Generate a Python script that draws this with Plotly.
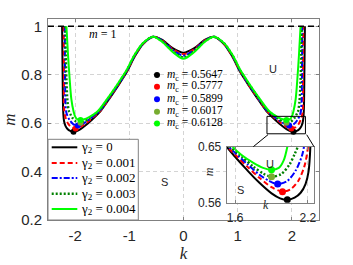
import plotly.graph_objects as go

# ---------------- data ----------------
GAMMA_LABELS = ["0", "0.001", "0.002", "0.003", "0.004"]
MC_VALUES = [0.5647, 0.5777, 0.5899, 0.6017, 0.6128]
KC_RIGHT = [2.03, 1.99, 1.95, 1.90, 1.90]
KC_LEFT = [-2.03, -1.99, -1.95, -1.90, -1.90]

K_G0 = [-2.24, -2.23, -2.22, -2.205, -2.18, -2.14, -2.09, -2.03, -1.97, -1.9, -1.8, -1.7, -1.53, -1.37, -1.2, -1.05, -0.9, -0.75, -0.56, -0.4, -0.2,
        0,
        0.2, 0.4, 0.56, 0.75, 0.9, 1.05, 1.2, 1.37, 1.53, 1.7, 1.8, 1.9, 1.97, 2.03, 2.09, 2.14, 2.18, 2.205, 2.22, 2.23, 2.24]
M_G0 = [1.0, 0.8, 0.65, 0.61, 0.59, 0.576, 0.568, 0.5647, 0.567, 0.575, 0.592, 0.612, 0.65, 0.70, 0.757, 0.81, 0.875, 0.926, 0.957, 0.945, 0.91,
        0.891,
        0.91, 0.945, 0.957, 0.926, 0.875, 0.81, 0.757, 0.70, 0.65, 0.612, 0.592, 0.575, 0.567, 0.5647, 0.568, 0.576, 0.59, 0.61, 0.65, 0.8, 1.0]

K_G1 = [-2.21, -2.205, -2.2, -2.17, -2.12, -2.06, -1.99, -1.9, -1.8, -1.7, -1.6, -1.53, -1.37, -1.2, -1.05, -0.9, -0.75, -0.56, -0.4, -0.2,
        0,
        0.2, 0.4, 0.56, 0.75, 0.9, 1.05, 1.2, 1.37, 1.53, 1.6, 1.7, 1.8, 1.9, 1.99, 2.06, 2.12, 2.17, 2.2, 2.205, 2.21]
M_G1 = [1.0, 0.8, 0.65, 0.618, 0.595, 0.582, 0.5777, 0.585, 0.6, 0.618, 0.637, 0.652, 0.703, 0.759, 0.812, 0.877, 0.927, 0.957, 0.943, 0.906,
        0.885,
        0.906, 0.943, 0.957, 0.927, 0.877, 0.812, 0.759, 0.703, 0.652, 0.637, 0.618, 0.6, 0.585, 0.5777, 0.582, 0.595, 0.618, 0.65, 0.8, 1.0]

K_G2 = [-2.19, -2.185, -2.18, -2.167, -2.15, -2.1, -2.03, -1.95, -1.88, -1.8, -1.7, -1.6, -1.54, -1.37, -1.2, -1.05, -0.9, -0.75, -0.56, -0.4, -0.2,
        0,
        0.2, 0.4, 0.56, 0.75, 0.9, 1.05, 1.2, 1.37, 1.54, 1.6, 1.7, 1.8, 1.88, 1.95, 2.03, 2.1, 2.15, 2.167, 2.18, 2.185, 2.19]
M_G2 = [1.0, 0.8, 0.70, 0.65, 0.635, 0.612, 0.595, 0.5899, 0.595, 0.605, 0.622, 0.64, 0.652, 0.706, 0.761, 0.814, 0.879, 0.928, 0.957, 0.941, 0.902,
        0.879,
        0.902, 0.941, 0.957, 0.928, 0.879, 0.814, 0.761, 0.706, 0.652, 0.64, 0.622, 0.605, 0.595, 0.5899, 0.595, 0.612, 0.635, 0.65, 0.70, 0.8, 1.0]

K_G3 = [-2.18, -2.17, -2.16, -2.14, -2.115, -2.09, -2.05, -1.98, -1.9, -1.83, -1.75, -1.65, -1.55, -1.37, -1.2, -1.05, -0.9, -0.75, -0.56, -0.4, -0.2,
        0,
        0.2, 0.4, 0.56, 0.75, 0.9, 1.05, 1.2, 1.37, 1.55, 1.65, 1.75, 1.83, 1.9, 1.98, 2.05, 2.09, 2.115, 2.14, 2.16, 2.17, 2.18]
M_G3 = [1.0, 0.88, 0.78, 0.69, 0.65, 0.638, 0.622, 0.606, 0.6017, 0.607, 0.618, 0.635, 0.652, 0.709, 0.764, 0.816, 0.881, 0.929, 0.957, 0.939, 0.898,
        0.872,
        0.898, 0.939, 0.957, 0.929, 0.881, 0.816, 0.764, 0.709, 0.652, 0.635, 0.618, 0.607, 0.6017, 0.606, 0.622, 0.638, 0.65, 0.69, 0.78, 0.88, 1.0]

K_G4 = [-2.16, -2.13, -2.1, -2.07, -2.03, -2.0, -1.96, -1.9, -1.83, -1.75, -1.65, -1.57, -1.37, -1.2, -1.05, -0.9, -0.75, -0.56, -0.4, -0.2,
        0,
        0.2, 0.4, 0.56, 0.75, 0.9, 1.05, 1.2, 1.37, 1.57, 1.65, 1.75, 1.83, 1.9, 1.96, 2.0, 2.03, 2.07, 2.1, 2.13, 2.16]
M_G4 = [1.0, 0.88, 0.78, 0.70, 0.65, 0.628, 0.616, 0.6128, 0.616, 0.624, 0.637, 0.652, 0.712, 0.767, 0.819, 0.883, 0.930, 0.957, 0.937, 0.894,
        0.866,
        0.894, 0.937, 0.957, 0.930, 0.883, 0.819, 0.767, 0.712, 0.652, 0.637, 0.624, 0.616, 0.6128, 0.616, 0.628, 0.65, 0.70, 0.78, 0.88, 1.0]

CURVES_K = [K_G0, K_G1, K_G2, K_G3, K_G4]
CURVES_M = [M_G0, M_G1, M_G2, M_G3, M_G4]

M_ONE = 1.0
X_TICKS = [-2, -1, 0, 1, 2]
X_TICK_TEXT = ["-2", "-1", "0", "1", "2"]
Y_TICKS = [0.2, 0.4, 0.6, 0.8, 1]
Y_TICK_TEXT = ["0.2", "0.4", "0.6", "0.8", "1"]
INSET_X_TICKS = [1.6, 2.2]
INSET_Y_TICKS = [0.56, 0.65]

# ---------------- styles ----------------
LINE_COLORS = ["#000000", "#ff0000", "#0000ff", "#008000", "#00ff00"]
LINE_DASH = ["solid", "5px,3px", "6px,2px,2px,2px", "2px,2px", "solid"]
LINE_WIDTH = [2, 2, 2, 2.4, 2]
MARKER_COLORS = ["#000000", "#ff0000", "#0000ff", "#77ac30", "#00ff00"]

W, H = 353, 265
PL, PR, PT, PB = 48, 319, 19, 220
XR = [-2.5, 2.5]
YR = [0.2, 1.03]
IXR = [1.53, 2.25]
IYR = [0.56, 0.65]

def px(x):
    return (x - PL) / (PR - PL)

def py(y):
    return (PB - y) / (PB - PT)

AXIS_COL = "#808080"
GRID_COL = "#d4d4d4"
TXT_COL = "#262626"
SANS = "Liberation Sans"
SERIF = "Liberation Serif"

fig = go.Figure()

for i in range(5):
    for xa, ya in (("x", "y"), ("x2", "y2")):
        fig.add_trace(go.Scatter(
            x=CURVES_K[i], y=CURVES_M[i], mode="lines", xaxis=xa, yaxis=ya,
            line=dict(color=LINE_COLORS[i], dash=LINE_DASH[i], width=LINE_WIDTH[i],
                      shape="spline", smoothing=0.8),
            showlegend=False, hoverinfo="skip"))

for i in range(5):
    fig.add_trace(go.Scatter(
        x=[KC_LEFT[i], KC_RIGHT[i]], y=[MC_VALUES[i], MC_VALUES[i]], mode="markers",
        marker=dict(color=MARKER_COLORS[i], size=6), showlegend=False, hoverinfo="skip"))
    fig.add_trace(go.Scatter(
        x=[KC_RIGHT[i]], y=[MC_VALUES[i]], mode="markers", xaxis="x2", yaxis="y2",
        marker=dict(color=MARKER_COLORS[i], size=7), showlegend=False, hoverinfo="skip"))

axis_common = dict(showline=True, mirror="ticks", linecolor=AXIS_COL, linewidth=1,
                   ticks="inside", ticklen=3, tickcolor=AXIS_COL, zeroline=False, automargin=False,
                   showgrid=True, gridcolor=GRID_COL, griddash="4px,3px", gridwidth=1)

fig.update_layout(
    width=W, height=H, autosize=False,
    margin=dict(l=PL, r=W - PR, t=PT, b=H - PB, pad=0),
    paper_bgcolor="white", plot_bgcolor="white", showlegend=False,
    xaxis=dict(range=XR, domain=[0, 1], tickvals=X_TICKS, ticktext=X_TICK_TEXT,
               tickfont=dict(family=SANS, size=15, color=TXT_COL), ticklabelstandoff=2,
               title=dict(text="<i>k</i>", font=dict(family=SERIF, size=17, color=TXT_COL), standoff=0),
               **axis_common),
    yaxis=dict(range=YR, domain=[0, 1], tickvals=Y_TICKS, ticktext=Y_TICK_TEXT,
               tickfont=dict(family=SANS, size=15, color=TXT_COL), ticklabelstandoff=2,
               title=dict(text="<i>m</i>", font=dict(family=SERIF, size=17, color=TXT_COL), standoff=1),
               **axis_common),
    xaxis2=dict(range=IXR, domain=[px(226.7), px(314)], anchor="y2", tickvals=INSET_X_TICKS,
                ticktext=["1.6", "2.2"], tickfont=dict(family=SANS, size=12, color=TXT_COL),
                ticklabelstandoff=4, **axis_common),
    yaxis2=dict(range=IYR, domain=[py(202.7), py(146.7)], anchor="x2", tickvals=INSET_Y_TICKS,
                ticktext=["0.56", "0.65"], tickfont=dict(family=SANS, size=12, color=TXT_COL),
                ticklabelstandoff=2, **axis_common),
)

shapes = []
# m = 1 reference line
shapes.append(dict(type="line", xref="paper", yref="y", x0=0, x1=1, y0=M_ONE, y1=M_ONE,
                   line=dict(color="black", width=1.5, dash="6px,4px")))
# zoom rectangle
shapes.append(dict(type="rect", xref="x", yref="y", x0=1.54, x1=2.25, y0=0.556, y1=0.628,
                   line=dict(color="black", width=1)))
# connector lines
shapes.append(dict(type="line", xref="paper", yref="paper", x0=px(268), y0=py(134.7), x1=px(253.3), y1=py(146.7),
                   line=dict(color="black", width=1)))
shapes.append(dict(type="line", xref="paper", yref="paper", x0=px(306.7), y0=py(134.7), x1=px(314), y1=py(146.7),
                   line=dict(color="black", width=1)))
# legend box
shapes.append(dict(type="rect", xref="paper", yref="paper", x0=px(48), x1=px(138.3), y0=py(220), y1=py(139.3),
                   fillcolor="white", line=dict(color=AXIS_COL, width=1), layer="above"))
LEG_ROWS = [147.3, 163, 178, 193.7, 209]
for i in range(5):
    shapes.append(dict(type="line", xref="paper", yref="paper", x0=px(51.7), x1=px(77.3),
                       y0=py(LEG_ROWS[i]), y1=py(LEG_ROWS[i]), layer="above",
                       line=dict(color=LINE_COLORS[i], width=LINE_WIDTH[i], dash=LINE_DASH[i])))
MLEG_ROWS = [75, 86.7, 99.3, 111.7, 123.5]
for i in range(5):
    shapes.append(dict(type="circle", xref="paper", yref="paper", xsizemode="pixel", ysizemode="pixel",
                       xanchor=px(157), yanchor=py(MLEG_ROWS[i]), x0=-3, x1=3, y0=-3, y1=3,
                       fillcolor=MARKER_COLORS[i], line=dict(width=0), layer="above"))
fig.update_layout(shapes=shapes)

ann = []
for i in range(5):
    ann.append(dict(xref="paper", yref="paper", x=px(79), y=py(LEG_ROWS[i]), xanchor="left", yanchor="middle",
                    text="γ<sub>2</sub> = " + GAMMA_LABELS[i], showarrow=False, height=14,
                    font=dict(family=SERIF, size=13, color="black")))
    ann.append(dict(xref="paper", yref="paper", x=px(165), y=py(MLEG_ROWS[i]), xanchor="left", yanchor="middle",
                    text="<i>m</i><sub>c</sub> = %.4f" % MC_VALUES[i], showarrow=False, height=11,
                    font=dict(family=SERIF, size=11.5, color="black")))
ann.append(dict(xref="x", yref="y", x=-1.5, y=0.968, text="<i>m</i> = 1", showarrow=False,
                font=dict(family=SERIF, size=12, color="black")))
ann.append(dict(xref="x", yref="y", x=1.65, y=0.824, text="U", showarrow=False,
                font=dict(family=SANS, size=11, color=TXT_COL)))
ann.append(dict(xref="x", yref="y", x=-0.35, y=0.357, text="S", showarrow=False,
                font=dict(family=SANS, size=11, color=TXT_COL)))
ann.append(dict(xref="x2", yref="y2", x=1.888, y=0.623, text="U", showarrow=False,
                font=dict(family=SANS, size=11, color=TXT_COL)))
ann.append(dict(xref="x2", yref="y2", x=1.641, y=0.5804, text="S", showarrow=False,
                font=dict(family=SANS, size=11, color=TXT_COL)))
ann.append(dict(xref="paper", yref="paper", x=px(209), y=py(177.7), text="<i>m</i>", showarrow=False, textangle=-90,
                font=dict(family=SERIF, size=12, color=TXT_COL)))
ann.append(dict(xref="paper", yref="paper", x=px(271), y=py(213.5), text="<i>k</i>", showarrow=False,
                font=dict(family=SERIF, size=12, color=TXT_COL)))
fig.update_layout(annotations=ann)

fig.write_html("out.html", config={"displayModeBar": False},
               post_script="document.body.style.margin='0';document.body.style.padding='0';")
